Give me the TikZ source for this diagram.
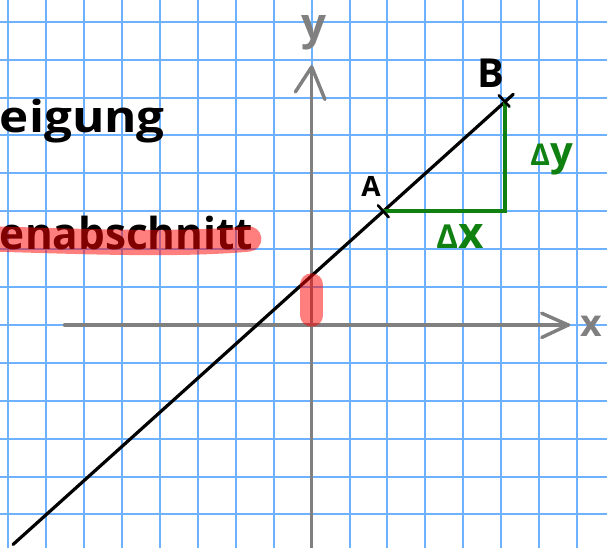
\documentclass[tikz,border=0pt]{standalone}
\usepackage{fontspec}
\setmainfont{Open Sans}
\usepackage{graphicx}
\definecolor{gridblue}{RGB}{110,178,255}
\definecolor{axisgray}{RGB}{128,128,128}
\definecolor{penred}{RGB}{255,0,0}
\definecolor{pengreen}{RGB}{16,128,16}
\tikzset{
  gridline/.style={draw=gridblue, line width=1.5pt},
  axisline/.style={draw=axisgray, line width=2.6pt, line cap=round, line join=round},
  graphline/.style={draw=black, line width=2.4pt, line cap=round},
  tickmark/.style={draw=black, line width=2pt, line cap=round},
  helperline/.style={draw=pengreen, line width=3pt, line join=miter},
  marker/.style={draw=penred, draw opacity=0.5, line cap=round},
  hand/.style={inner sep=0pt, outer sep=0pt, font=\bfseries},
}
\begin{document}
\begin{tikzpicture}
\useasboundingbox (-8.224,-5.884) rectangle (7.792,8.575);
% squared paper
\draw[gridline, step=1] (-8.224,-5.884) grid (7.792,8.575);
% axes
\coordinate (xs) at (-6.52,0);
\coordinate (xt) at (6.77,0);
\coordinate (xa1) at (6.07,0.31);
\coordinate (xa2) at (6.07,-0.33);
\coordinate (ys) at (0,-6.0);
\coordinate (yt) at (0,6.81);
\coordinate (ya1) at (-0.43,6.15);
\coordinate (ya2) at (0.35,5.95);
\draw[axisline] (xs) -- (xt);
\draw[axisline] (xa1) -- (xt) -- (xa2);
\draw[axisline] (ys) -- (yt);
\draw[axisline] (ya1) -- (yt) -- (ya2);
\node[hand, text=axisgray, anchor=base] (ylab) at (0.06,7.52) {\fontsize{33}{33}\selectfont y};
\node[hand, text=axisgray, anchor=base west] (xlab) at (7.08,-0.3) {\fontsize{28}{28}\selectfont x};
% straight line
\coordinate (L1) at (-7.88,-5.792);
\coordinate (L2) at (5.32,6.088);
\draw[graphline] (L1) -- (L2);
\coordinate (A) at (1.89,3.0);
\coordinate (B) at (5.1,5.89);
\coordinate (C) at (5.1,3.0);
% slope triangle
\draw[helperline] (A) -- (C) -- (B);
\draw[tickmark, shift={(A)}] (-0.14,0.155) -- (0.14,-0.155);
\draw[tickmark, shift={(B)}] (-0.16,0.17) -- (0.12,-0.13);
\node[hand] (Alab) at (1.565,3.654) {\fontsize{21}{21}\selectfont A};
\node[hand] (Blab) at (4.73,6.636) {\fontsize{30}{30}\selectfont B};
\node[hand, text=pengreen, anchor=base] (dy) at (6.33,4.2) {\fontsize{30}{30}\selectfont\scalebox{0.75}{Δ}y};
\node[hand, text=pengreen, anchor=base] (dx) at (3.91,2.03) {\fontsize{33}{33}\selectfont\scalebox{0.75}{Δ}x};
% words on the left
\node[hand, anchor=base west] (steig) at (-8.224,5.066) {\resizebox{4.35cm}{\height}{\fontsize{33}{33}\selectfont eigung}};
\node[hand, anchor=base west] (achse) at (-8.224,1.98) {\resizebox{6.68cm}{\height}{\fontsize{33}{33}\selectfont enabschnitt}};
% highlighter strokes
\draw[marker, line width=19pt] (-8.4,2.27) .. controls (-6,2.2) and (-3.5,2.1) .. (-1.66,2.27);
\draw[marker, line width=17pt] (0,1.066) -- (0,0.253);
\end{tikzpicture}
\end{document}
